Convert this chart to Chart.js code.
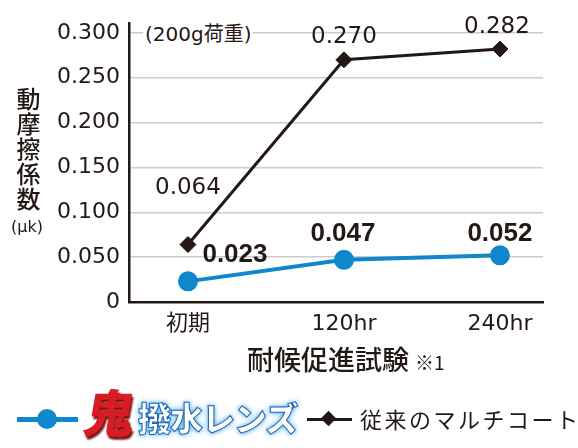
<!DOCTYPE html>
<html>
<head>
<meta charset="utf-8">
<script src="https://cdn.jsdelivr.net/npm/chart.js@4/dist/chart.umd.min.js"></script>
<style>
  body { margin: 0; background: #fff; }
  #wrap { position: relative; width: 578px; height: 448px; overflow: hidden; font-family: "DejaVu Sans", "Noto Sans CJK JP", sans-serif; color: #231815; }
  #chart { position: absolute; left: 0; top: 0; }
  .abs { position: absolute; white-space: nowrap; }
  #ytitle { left: 16px; top: 87px; writing-mode: vertical-rl; font-family: "Noto Sans CJK JP"; font-size: 24px; font-weight: 500; letter-spacing: 1px; line-height: 24px; }
  #yunit { left: 11px; top: 217px; font-family: "DejaVu Sans", "Noto Sans CJK JP"; font-size: 16px; }
  #note { left: 143px; top: 21px; background: #fff; font-family: "DejaVu Sans", "Noto Sans CJK JP"; font-size: 20px; padding: 0 2px; line-height: 26px; }
  #xtitle { left: 247px; top: 342px; font-family: "Noto Sans CJK JP"; font-size: 27px; font-weight: 500; line-height: 34px; }
  #xtitle small { font-size: 19px; font-weight: 400; }
  .lline { position: absolute; }
  #oni { left: 86px; top: 378px; font-family: "Noto Sans CJK JP"; font-weight: 900; font-size: 50px; color: #d71c24; transform: skewX(-10deg); text-shadow: 2px 3px 2px #7a1418; line-height: 64px; }
  #hassui { left: 138px; top: 395px; font-family: "Noto Sans CJK JP"; font-weight: 900; font-size: 33px; color: #fff; -webkit-text-stroke: 1px #1a63b4; text-shadow: 0 0 4px #4aa6e8, 0 0 7px #8fcaf2; letter-spacing: -1px; line-height: 44px; }
  #conv { left: 360px; top: 403px; font-family: "Noto Sans CJK JP"; font-size: 22px; letter-spacing: 2.5px; line-height: 30px; }
</style>
</head>
<body>
<div id="wrap">
  <canvas id="chart" width="578" height="448"></canvas>
  <div class="abs" id="ytitle">動摩擦係数</div>
  <div class="abs" id="yunit">(μk)</div>
  <div class="abs" id="note">(200g荷重)</div>
  <div class="abs" id="xtitle">耐候促進試験 <small>※1</small></div>

  <div class="lline" style="left:17px;top:417px;width:61px;height:5px;background:#0e87cd"></div>
  <div class="lline" style="left:37px;top:409px;width:20px;height:20px;border-radius:50%;background:#0e87cd"></div>
  <div class="abs" id="oni">鬼</div>
  <div class="abs" id="hassui">撥水レンズ</div>

  <div class="lline" style="left:307px;top:418px;width:45px;height:3px;background:#231815"></div>
  <div class="lline" style="left:323px;top:413px;width:11px;height:11px;background:#231815;transform:rotate(45deg)"></div>
  <div class="abs" id="conv">従来のマルチコート</div>
</div>

<script>
const categories = ["初期", "120hr", "240hr"];
const oniValues = [0.023, 0.047, 0.052];
const conventionalValues = [0.064, 0.270, 0.282];
const yTicks = [0, 0.05, 0.1, 0.15, 0.2, 0.25, 0.3];
const yTickLabels = ["0", "0.050", "0.100", "0.150", "0.200", "0.250", "0.300"];

const dark = "#231815";
const blue = "#0e87cd";

// value labels drawn next to each point
const valueLabels = {
  id: "valueLabels",
  afterDatasetsDraw(chart, args, opts) {
    const ctx = chart.ctx;
    chart.data.datasets.forEach((ds, di) => {
      const meta = chart.getDatasetMeta(di);
      const cfg = opts.sets[di];
      ctx.save();
      ctx.font = cfg.font;
      ctx.fillStyle = dark;
      ctx.textAlign = "center";
      ctx.textBaseline = "middle";
      meta.data.forEach((pt, i) => {
        const off = cfg.offsets[i];
        ctx.fillText(ds.data[i].y.toFixed(3), pt.x + off[0], pt.y + off[1]);
      });
      ctx.restore();
    });
  }
};

new Chart(document.getElementById("chart"), {
  type: "line",
  data: {
    datasets: [
      {
        label: "鬼撥水レンズ",
        data: oniValues.map((v, i) => ({ x: i, y: v })),
        borderColor: blue,
        backgroundColor: blue,
        borderWidth: 4,
        pointRadius: 9,
        pointBorderWidth: 2,
        pointBorderColor: blue,
        pointStyle: "circle",
        tension: 0
      },
      {
        label: "従来のマルチコート",
        data: conventionalValues.map((v, i) => ({ x: i, y: v })),
        borderColor: dark,
        backgroundColor: dark,
        borderWidth: 3,
        pointRadius: 8,
        pointBorderWidth: 1,
        pointStyle: "rectRot",
        tension: 0
      }
    ]
  },
  options: {
    responsive: false,
    animation: false,
    events: [],
    layout: { padding: { top: 23, right: 35, left: 0, bottom: 0 } },
    plugins: {
      legend: { display: false },
      tooltip: { enabled: false },
      valueLabels: {
        sets: [
          { font: "bold 26px 'Liberation Sans', sans-serif", offsets: [[47, -27], [-1, -26], [0, -22]] },
          { font: "23px 'DejaVu Sans', sans-serif", offsets: [[0, -57], [0, -23], [-3, -22]] }
        ]
      }
    },
    scales: {
      x: {
        type: "linear",
        min: -0.378,
        max: 2.276,
        afterFit: s => { s.height = 146; },
        afterBuildTicks: s => { s.ticks = categories.map((c, i) => ({ value: i })); },
        grid: { display: false, drawTicks: false },
        border: { display: true, color: dark, width: 2.5 },
        ticks: {
          padding: 9,
          color: dark,
          font: { family: "'DejaVu Sans', 'Noto Sans CJK JP'", size: 22 },
          callback: (v) => categories[v]
        }
      },
      y: {
        min: 0,
        max: 0.311,
        afterFit: s => { s.width = 129; },
        afterBuildTicks: s => { s.ticks = yTicks.map(v => ({ value: v })); },
        grid: { color: "#cbcbcb", lineWidth: 1.5, drawTicks: false },
        border: { display: true, color: dark, width: 2.5 },
        ticks: {
          padding: 9,
          color: dark,
          font: { family: "'DejaVu Sans'", size: 22 },
          callback: (v, i) => yTickLabels[i]
        }
      }
    }
  },
  plugins: [valueLabels]
});
</script>
</body>
</html>
